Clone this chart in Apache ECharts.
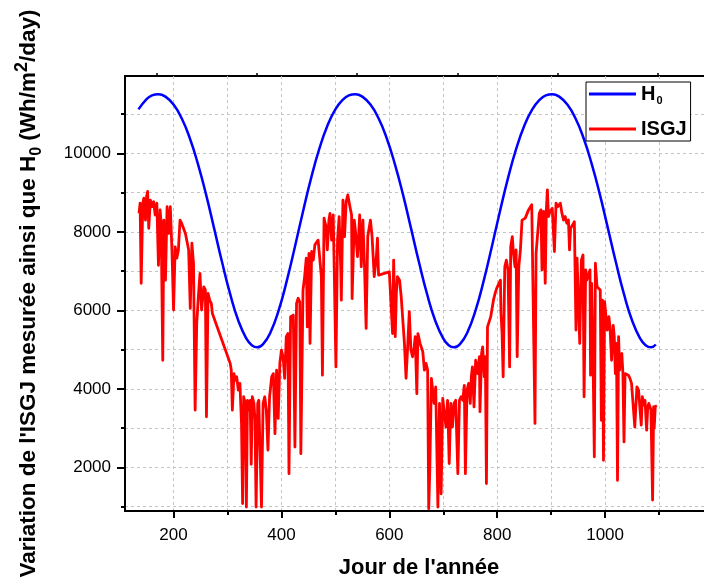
<!DOCTYPE html>
<html>
<head>
<meta charset="utf-8">
<script src="https://cdn.jsdelivr.net/npm/echarts@6/dist/echarts.min.js"></script>
<style>
  html, body { margin: 0; padding: 0; background: #fff; }
  #chart { width: 704px; height: 581px; }
</style>
</head>
<body>
<div id="chart"></div>
<script>
// Extraterrestrial daily irradiation H0 (Wh/m²/day), sampled along the day axis
const h0Days = [135,150,160,172,185,200,215,230,245,260,275,290,305,320,335,345,355,
  366,380,395,410,425,440,455,470,485,500,515,525,537,550,565,580,595,610,625,640,655,670,685,700,710,720,
  731,745,760,775,790,805,820,835,850,865,880,890,902,915,930,945,960,975,990,1005,1020,1035,1050,1065,1075,1085,1094];
const h0Values = [11119,11382,11477,11508,11444,11241,10892,10391,9738,8967,8101,7224,6412,5742,5282,5113,5059,
  5140,5448,6008,6757,7622,8520,9369,10105,10694,11119,11382,11477,11508,11444,11241,10892,10391,9738,8967,8101,7224,6412,5742,5282,5113,5059,
  5140,5448,6008,6757,7622,8520,9369,10105,10694,11119,11382,11477,11508,11444,11241,10892,10391,9738,8967,8101,7224,6412,5742,5282,5113,5059,5130];

// Measured global daily irradiation ISGJ (Wh/m²/day)
const isgjDays = [136,138,140,143,145,148,150,152,154,157,160,163,166,169,172,175,177,180,182,185,188,191,194,197,200,
  203,206,209,212,215,218,222,225,228,231,234,237,240,243,246,249,252,256,259,261,264,267,270,272,275,
  305,307,309,312,314,317,320,323,326,328,330,333,335,337,340,342,344,346,349,351,353,356,358,360,363,366,369,372,375,378,
  382,385,388,391,394,397,400,403,406,409,412,414,417,422,425,428,431,434,436,440,443,446,448,451,453,456,459,462,465,468,
  471,474,476,479,481,483,485,488,490,493,496,498,501,504,507,510,511,514,517,520,523,527,530,531,535,537,541,543,545,548,
  551,554,557,560,565,568,572,576,578,580,
  600,603,606,608,611,613,615,619,622,625,628,631,634,637,640,643,646,648,651,653,657,662,665,668,671,673,675,678,683,686,
  690,693,696,699,702,705,708,711,714,717,720,723,727,730,733,736,739,741,744,747,750,752,754,757,760,764,767,768,771,773,
  776,778,780,782,785,788,790,793,796,799,802,806,807,809,811,814,817,820,823,825,828,830,833,835,837,840,843,846,849,852,
  855,858,861,864,867,870,872,875,878,881,883,886,889,891,893,895,898,902,906,909,912,917,920,923,926,929,932,934,936,940,
  943,946,948,951,953,956,959,961,964,966,969,972,973,975,978,980,982,985,988,991,993,995,997,999,1001,1004,1007,1009,1012,1015,
  1017,1019,1021,1023,1025,1027,1028,1031,1033,1035,1037,1040,1043,1046,1049,1052,1055,1059,1062,1065,1067,1069,1072,1074,1077,
  1079,1081,1083,1085,1088,1090,1091,1093,1096];
const isgjValues = [8470,8730,6690,8730,8860,8300,8900,9030,8090,8810,8640,8770,8430,8730,7150,8560,8220,4730,8300,6770,8640,7960,8640,7540,6010,
  7620,7330,7540,8300,8220,8180,7960,7960,7540,6050,7710,7200,3460,5670,6350,6940,6010,6600,6520,3290,6430,6260,6180,5920,5970,
  4650,4480,3460,4390,4220,4310,3970,4140,3120,1080,3800,3630,990,3710,3460,3710,2080,3800,3630,3200,990,3630,3710,2610,990,3630,3800,3460,2440,3800,
  4310,4390,2860,4480,3250,4650,4990,4820,4270,5330,5410,1840,5840,5880,2520,6180,6310,6220,2350,6520,6860,7330,5580,7450,5160,7500,7280,7670,7620,7790,
  7840,6860,4350,8350,8220,8130,7540,8300,8470,7790,8430,6940,4560,7790,8390,7030,6260,8810,7880,8770,8940,8640,8430,6300,8300,8050,7370,7880,8430,7110,
  8300,7110,5540,7880,8300,7880,6860,7370,7840,6900,
  6980,6980,5410,7280,5330,6430,6860,6770,6350,5750,5160,4270,5070,5970,4990,4820,5070,5330,3880,5410,5160,4950,4480,4650,4480,950,1930,4270,3630,4050,
  990,3630,1330,3760,3800,3030,3710,2100,3630,3030,3630,3710,1840,3710,3800,3710,4090,1840,3970,4140,3630,4310,4560,3540,4730,4390,4820,3420,4900,5070,
  4310,4820,1590,5580,5620,5840,6010,6260,6430,6560,6520,6770,5920,5410,4310,7110,7280,7030,4560,7620,7880,7450,7110,7540,4820,7110,7540,8300,8300,8350,
  8390,8560,8600,8690,8640,3120,7450,7410,8470,8560,7030,8520,6690,8560,9070,8390,8520,8600,7500,8730,8640,8730,8470,8300,8390,8220,8300,7540,8090,8180,
  8260,5500,7330,7370,5160,7280,7410,3800,7030,6770,6770,7030,4350,6690,4390,2270,7200,6600,6650,6520,3200,6260,2180,6220,6220,5500,5840,5580,4730,5620,
  5330,4390,5160,1670,5330,4480,4820,4900,4390,2650,4390,4440,4350,4270,4140,4180,3030,4050,3970,4010,3080,3800,3590,3710,2950,
  3540,3630,3600,3470,1170,3550,3000,3550,3570];

// Axis ticks: labelled and unlabelled positions
const xLabelTicks = [200, 400, 600, 800, 1000];
const xGridTicks = [200, 300, 400, 500, 600, 700, 800, 900, 1000, 1100];
const xTopTicks = [169.5, 355, 540.5, 726, 911.5, 1097];
const yLabelTicks = [2000, 4000, 6000, 8000, 10000];
const yGridTicks = [1000, 2000, 3000, 4000, 5000, 6000, 7000, 8000, 9000, 10000, 11000];

const FONT = 'Liberation Sans';
const xRange = [110, 1200];
const yRange = [890, 11970];

const chart = echarts.init(document.getElementById('chart'), null, { renderer: 'canvas' });

const gridLine = { show: true, lineStyle: { color: '#c4c4c4', width: 1, type: [3, 3] } };
const plainNumber = v => String(v);

chart.setOption({
  animation: false,
  backgroundColor: '#fff',
  grid: {
    left: 125, top: 76, width: 588, height: 435,
    outerBoundsMode: 'none', containLabel: false,
    show: true, borderColor: '#000', borderWidth: 2, backgroundColor: 'transparent'
  },
  legend: {
    orient: 'vertical',
    left: 586, top: 82,
    padding: [2, 4, 2, 3],
    itemGap: 13,
    itemWidth: 47,
    itemHeight: 3,
    icon: 'rect',
    borderColor: '#000',
    borderWidth: 1,
    backgroundColor: '#fff',
    data: ['H0', 'ISGJ'],
    formatter: name => name === 'H0' ? '{h|H}{s|0}' : '{h|ISGJ}',
    textStyle: {
      rich: {
        h: { fontFamily: FONT, fontWeight: 'bold', fontSize: 20, color: '#000', lineHeight: 24 },
        s: { fontFamily: FONT, fontWeight: 'bold', fontSize: 11, color: '#000', lineHeight: 20, verticalAlign: 'bottom', padding: [0, 0, 0, 1] }
      }
    }
  },
  xAxis: [{
    type: 'value', min: xRange[0], max: xRange[1],
    name: "Jour de l'année", nameLocation: 'middle', nameGap: 46,
    nameTextStyle: { fontFamily: FONT, fontWeight: 'bold', fontSize: 22, color: '#000' },
    axisLine: { show: true, lineStyle: { color: '#000', width: 2 } },
    axisTick: { show: true, customValues: xGridTicks, length: 4, lineStyle: { color: '#000', width: 2 } },
    axisLabel: { customValues: xLabelTicks, margin: 16, fontFamily: FONT, fontSize: 17, color: '#000', formatter: plainNumber },
    splitLine: gridLine
  }, {
    type: 'value', min: xRange[0], max: xRange[1], position: 'bottom', gridIndex: 0,
    axisLine: { show: false },
    axisTick: { show: true, customValues: xLabelTicks, length: 7, lineStyle: { color: '#000', width: 2 } },
    axisLabel: { show: false },
    splitLine: { show: false }
  }, {
    type: 'value', min: xRange[0], max: xRange[1], position: 'top', gridIndex: 0,
    axisLine: { show: false },
    axisTick: { show: true, customValues: xTopTicks, length: 3, lineStyle: { color: '#000', width: 1.5 } },
    axisLabel: { show: false },
    splitLine: { show: false }
  }],
  yAxis: [{
    type: 'value', min: yRange[0], max: yRange[1],
    name: "{t|Variation de l'ISGJ mesurée ainsi que H}{sub|0}{t| (Wh/m}{sup|2}{t|/day)}",
    nameLocation: 'middle', nameGap: 80,
    nameTextStyle: {
      rich: {
        t: { fontFamily: FONT, fontWeight: 'bold', fontSize: 22.5, color: '#000', lineHeight: 32 },
        sub: { fontFamily: FONT, fontWeight: 'bold', fontSize: 16, color: '#000', lineHeight: 20, verticalAlign: 'bottom' },
        sup: { fontFamily: FONT, fontWeight: 'bold', fontSize: 18, color: '#000', lineHeight: 18, verticalAlign: 'top' }
      }
    },
    axisLine: { show: true, lineStyle: { color: '#000', width: 2 } },
    axisTick: { show: true, customValues: yGridTicks, length: 4, lineStyle: { color: '#000', width: 2 } },
    axisLabel: { customValues: yLabelTicks, margin: 14, fontFamily: FONT, fontSize: 17, color: '#000', formatter: plainNumber },
    splitLine: gridLine
  }, {
    type: 'value', min: yRange[0], max: yRange[1], position: 'left', gridIndex: 0,
    axisLine: { show: false },
    axisTick: { show: true, customValues: yLabelTicks, length: 8, lineStyle: { color: '#000', width: 2 } },
    axisLabel: { show: false },
    splitLine: { show: false }
  }],
  series: [{
    name: 'ISGJ', type: 'line', xAxisIndex: 0, yAxisIndex: 0,
    data: isgjDays.map((d, i) => [d, isgjValues[i]]),
    showSymbol: false, color: '#ff0000',
    lineStyle: { color: '#ff0000', width: 2.8, join: 'round' },
    clip: true, z: 2
  }, {
    name: 'H0', type: 'line', xAxisIndex: 0, yAxisIndex: 0,
    data: h0Days.map((d, i) => [d, h0Values[i]]),
    showSymbol: false, smooth: true, color: '#0000ff',
    lineStyle: { color: '#0000ff', width: 2.5 },
    clip: true, z: 3
  }]
});
</script>
</body>
</html>
